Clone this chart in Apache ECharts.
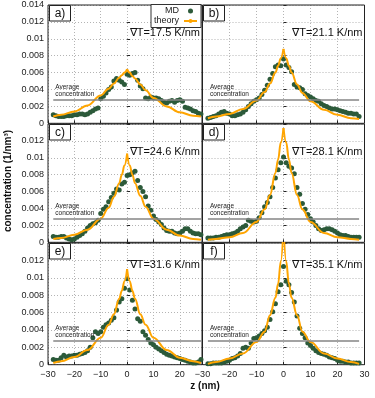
<!DOCTYPE html>
<html>
<head>
<meta charset="utf-8">
<script src="https://cdn.jsdelivr.net/npm/echarts@6/dist/echarts.min.js"></script>
<style>
  html, body { margin: 0; padding: 0; background: #fff; }
  #chart { width: 375px; height: 398px; }
</style>
</head>
<body>
<div id="chart"></div>
<script>
// MD sample positions (nm)
const zMD = [-28, -27, -26, -25, -24, -23, -22, -21, -20, -19, -18, -17, -16, -15, -14, -13, -12, -11, -10, -9,
  -8, -7, -6, -5, -4, -3, -2, -1, 0, 1, 2, 3, 4, 5, 6, 7, 8, 9, 10, 11,
  12, 13, 14, 15, 16, 17, 18, 19, 20, 21, 22, 23, 24, 25, 26, 27, 28];

const mdA = [0.0010, 0.0009, 0.0008, 0.0008, 0.0008, 0.0009, 0.0009, 0.0009, 0.0010, 0.0010,
  0.0011, 0.0011, 0.0010, 0.0011, 0.0013, 0.0015, 0.0017, 0.0018, 0.0029, 0.0032,
  0.0036, 0.0040, 0.0043, 0.0050, 0.0053, 0.0051, 0.0049, 0.0046, 0.0058, 0.0057,
  0.0059, 0.0060, 0.0051, 0.0044, 0.0041, 0.0030, 0.0029, 0.0031, 0.0030, 0.0030,
  0.0029, 0.0027, 0.0025, 0.0024, 0.0026, 0.0027, 0.0025, 0.0027, 0.0028, 0.0026,
  0.0019, 0.0018, 0.0017, 0.0015, 0.0014, 0.0012, 0.0011];
const mdB = [0.0006, 0.0007, 0.0008, 0.0009, 0.0011, 0.0013, 0.0014, 0.0012, 0.0011, 0.0009,
  0.0009, 0.0010, 0.0011, 0.0013, 0.0016, 0.0020, 0.0023, 0.0026, 0.0028, 0.0030,
  0.0034, 0.0039, 0.0045, 0.0052, 0.0059, 0.0067, 0.0069, 0.0068, 0.0076, 0.0069,
  0.0066, 0.0061, 0.0046, 0.0043, 0.0042, 0.0040, 0.0035, 0.0033, 0.0031, 0.0029,
  0.0027, 0.0026, 0.0023, 0.0021, 0.0020, 0.0018, 0.0017, 0.0017, 0.0016, 0.0015,
  0.0014, 0.0013, 0.0012, 0.0012, 0.0011, 0.0011, 0.0008];
const mdC = [0.0007, 0.0006, 0.0006, 0.0007, 0.0007, 0.0005, 0.0004, 0.0003, 0.0004, 0.0006,
  0.0008, 0.0010, 0.0013, 0.0017, 0.0020, 0.0022, 0.0023, 0.0026, 0.0034, 0.0039,
  0.0042, 0.0048, 0.0053, 0.0058, 0.0063, 0.0062, 0.0069, 0.0071, 0.0079, 0.0080,
  0.0082, 0.0084, 0.0073, 0.0065, 0.0060, 0.0054, 0.0043, 0.0038, 0.0031, 0.0027,
  0.0024, 0.0021, 0.0017, 0.0014, 0.0013, 0.0013, 0.0011, 0.0010, 0.0011, 0.0013,
  0.0016, 0.0016, 0.0013, 0.0011, 0.0010, 0.0010, 0.0009];
const mdD = [0.0005, 0.0005, 0.0005, 0.0006, 0.0006, 0.0007, 0.0008, 0.0009, 0.0009, 0.0010,
  0.0011, 0.0013, 0.0016, 0.0018, 0.0020, 0.0026, 0.0025, 0.0024, 0.0025, 0.0029,
  0.0035, 0.0042, 0.0047, 0.0054, 0.0065, 0.0076, 0.0086, 0.0094, 0.0101, 0.0094,
  0.0090, 0.0088, 0.0081, 0.0065, 0.0057, 0.0046, 0.0039, 0.0033, 0.0028, 0.0024,
  0.0020, 0.0016, 0.0014, 0.0015, 0.0016, 0.0016, 0.0015, 0.0013, 0.0011, 0.0009,
  0.0008, 0.0008, 0.0007, 0.0006, 0.0006, 0.0006, 0.0006];
const mdE = [0.0006, 0.0005, 0.0005, 0.0008, 0.0011, 0.0009, 0.0010, 0.0010, 0.0011, 0.0011,
  0.0012, 0.0013, 0.0014, 0.0016, 0.0020, 0.0031, 0.0038, 0.0036, 0.0038, 0.0043,
  0.0046, 0.0048, 0.0051, 0.0054, 0.0063, 0.0072, 0.0076, 0.0088, 0.0099, 0.0086,
  0.0074, 0.0064, 0.0053, 0.0050, 0.0038, 0.0034, 0.0029, 0.0025, 0.0023, 0.0020,
  0.0018, 0.0016, 0.0014, 0.0012, 0.0011, 0.0010, 0.0009, 0.0008, 0.0007, 0.0006,
  0.0005, 0.0004, 0.0003, 0.0002, 0.0002, 0.0003, 0.0006];
const mdF = [0.0001, 0.0001, 0.0002, 0.0002, 0.0002, 0.0002, 0.0003, 0.0004, 0.0005, 0.0007,
  0.0008, 0.0010, 0.0013, 0.0019, 0.0020, 0.0019, 0.0025, 0.0030, 0.0031, 0.0033,
  0.0036, 0.0039, 0.0043, 0.0052, 0.0061, 0.0070, 0.0084, 0.0092, 0.0113, 0.0096,
  0.0092, 0.0083, 0.0072, 0.0056, 0.0042, 0.0036, 0.0031, 0.0025, 0.0022, 0.0019,
  0.0016, 0.0014, 0.0013, 0.0012, 0.0011, 0.0009, 0.0008, 0.0007, 0.0005, 0.0004,
  0.0004, 0.0003, 0.0003, 0.0002, 0.0002, 0.0002, 0.0002];

// theory curve, read on each side of the cusp
const zTheoryL = [-28, -25, -20, -15, -10, -7, -5, -3, -2, -1, 0];
const zTheoryR = [0, 1, 2, 3, 5, 7, 10, 15, 20, 25, 28];
const thA_L = [0.0008, 0.0010, 0.0014, 0.0021, 0.0033, 0.0041, 0.0047, 0.0054, 0.0057, 0.0060, 0.0064];
const thA_R = [0.0064, 0.0060, 0.0056, 0.0053, 0.0046, 0.0039, 0.0030, 0.0020, 0.0013, 0.0009, 0.0008];
const thB_L = [0.0006, 0.0008, 0.0011, 0.0017, 0.0027, 0.0037, 0.0047, 0.0060, 0.0068, 0.0077, 0.0088];
const thB_R = [0.0088, 0.0077, 0.0068, 0.0060, 0.0046, 0.0036, 0.0026, 0.0016, 0.0010, 0.0006, 0.0005];
const thC_L = [0.0004, 0.0005, 0.0009, 0.0015, 0.0028, 0.0041, 0.0054, 0.0070, 0.0080, 0.0091, 0.0105];
const thC_R = [0.0105, 0.0091, 0.0080, 0.0070, 0.0055, 0.0042, 0.0028, 0.0015, 0.0008, 0.0004, 0.0003];
const thD_L = [0.0003, 0.0004, 0.0006, 0.0011, 0.0024, 0.0039, 0.0056, 0.0082, 0.0098, 0.0118, 0.0135];
const thD_R = [0.0135, 0.0118, 0.0098, 0.0082, 0.0056, 0.0039, 0.0024, 0.0011, 0.0006, 0.0004, 0.0003];
const thE_L = [0.0002, 0.0004, 0.0009, 0.0017, 0.0031, 0.0046, 0.0058, 0.0076, 0.0085, 0.0096, 0.0110];
const thE_R = [0.0110, 0.0096, 0.0085, 0.0076, 0.0058, 0.0046, 0.0031, 0.0017, 0.0008, 0.0004, 0.0002];
const thF_L = [0.0001, 0.0003, 0.0007, 0.0013, 0.0026, 0.0038, 0.0057, 0.0077, 0.0093, 0.0119, 0.0160];
const thF_R = [0.0160, 0.0119, 0.0093, 0.0077, 0.0057, 0.0038, 0.0026, 0.0013, 0.0007, 0.0003, 0.0001];

const avgConc = 0.00276;
const avgRange = [-28, 28];
const panelLabels = ["a)", "b)", "c)", "d)", "e)", "f)"];
const gradLabels = ["∇T=17.5 K/nm", "∇T=21.1 K/nm", "∇T=24.6 K/nm", "∇T=28.1 K/nm", "∇T=31.6 K/nm", "∇T=35.1 K/nm"];
const xTicks = [-30, -20, -10, 0, 10, 20, 30];
const yTicks = [0, 0.002, 0.004, 0.006, 0.008, 0.01, 0.012, 0.014];

const mdData = [mdA, mdB, mdC, mdD, mdE, mdF];
const thL = [thA_L, thB_L, thC_L, thD_L, thE_L, thF_L];
const thR = [thA_R, thB_R, thC_R, thD_R, thE_R, thF_R];

const FONT = '"Liberation Sans", Arial, sans-serif';
const ORANGE = "#ffa500";
const GREEN = "#2c5a3a";

// layout of the 3x2 panels
const cols = [
  { left: 48, width: 154, max: 28.4 },
  { left: 202.5, width: 162, max: 30 },
];
const rows = [
  { top: 5, height: 118.3, gradDy: 28.3 },
  { top: 124, height: 118.3, gradDy: 28.3 },
  { top: 243, height: 121.7, gradDy: 21.7 },
];

const grids = [], xAxes = [], yAxes = [], series = [], graphics = [];

for (let i = 0; i < 6; i++) {
  const r = Math.floor(i / 2);
  const c = i % 2;
  const col = cols[c], row = rows[r];

  grids.push({
    left: col.left, top: row.top, width: col.width, height: row.height,
    show: true, borderColor: "#222", borderWidth: 1, backgroundColor: "transparent", z: 1,
  });

  xAxes.push({
    type: "value", gridIndex: i, min: xTicks[0], max: col.max, interval: 10,
    axisLine: { show: false },
    axisTick: { show: true, inside: true, length: 3, lineStyle: { color: "#222" } },
    axisLabel: {
      show: r === 2, margin: 5, fontSize: 9, fontFamily: FONT, color: "#222",
      formatter: (v) => (xTicks.indexOf(v) < 0 ? "" : String(v).replace("-", "−")),
    },
    splitLine: { show: true, lineStyle: { color: "#b4b4b4", width: 1, type: [1, 2] } },
  });

  yAxes.push({
    type: "value", gridIndex: i, min: 0, max: yTicks[yTicks.length - 1], interval: 0.002,
    axisLine: { show: false },
    axisTick: { show: true, inside: true, length: 3, lineStyle: { color: "#222" } },
    axisLabel: {
      show: c === 0, margin: 4, fontSize: 9, fontFamily: FONT, color: "#222",
      formatter: (v) => (r > 0 && v > 0.0139 ? "" : String(+v.toFixed(3))),
    },
    splitLine: { show: true, lineStyle: { color: "#b4b4b4", width: 1, type: [1, 2] } },
  });

  series.push({
    name: "MD", type: "scatter", xAxisIndex: i, yAxisIndex: i,
    symbolSize: 5, itemStyle: { color: GREEN, opacity: 1 }, z: 2,
    data: zMD.map((z, k) => [z, mdData[i][k]]),
    markLine: {
      silent: true, symbol: "none",
      lineStyle: { color: "#858585", width: 1.5, type: "solid" },
      label: {
        show: true, position: "insideStartTop", distance: 2,
        formatter: "Average\nconcentration",
        fontSize: 6.5, lineHeight: 7, fontFamily: FONT, color: "#222",
      },
      data: [[{ coord: [avgRange[0], avgConc] }, { coord: [avgRange[1], avgConc] }]],
    },
  });
  [[zTheoryL, thL[i]], [zTheoryR, thR[i]]].forEach(([zs, ys]) => {
    series.push({
      name: "theory", type: "line", xAxisIndex: i, yAxisIndex: i,
      symbol: "none", smooth: 0.4, smoothMonotone: "x", z: 3,
      lineStyle: { color: ORANGE, width: 2 }, itemStyle: { color: ORANGE },
      data: zs.map((z, k) => [z, ys[k]]),
    });
  });

  // panel letter box
  const bx = Math.round(col.left) + (c === 0 ? 1.5 : 0.5);
  graphics.push({
    type: "rect", z: 20, shape: { x: bx, y: row.top + 0.5, width: 21, height: 15.5 },
    style: { fill: "#fff", stroke: "#222", lineWidth: 1 },
  });
  graphics.push({
    type: "text", z: 21, x: bx + 10.5, y: row.top + 8.5,
    style: { text: panelLabels[i], font: "12px " + FONT, fill: "#111", align: "center", verticalAlign: "middle" },
  });
  graphics.push({
    type: "text", z: 21, x: col.left + col.width - 2, y: row.top + row.gradDy,
    style: { text: gradLabels[i], font: "11px " + FONT, fill: "#111", align: "right", verticalAlign: "middle" },
  });
}

graphics.push({
  type: "text", z: 21, x: 8, y: 181, rotation: Math.PI / 2,
  style: { text: "concentration (1/nm³)", font: "bold 10px " + FONT, fill: "#111", align: "center", verticalAlign: "middle" },
});
graphics.push({
  type: "text", z: 21, x: 205, y: 386,
  style: { text: "z (nm)", font: "bold 10px " + FONT, fill: "#111", align: "center", verticalAlign: "middle" },
});

const chart = echarts.init(document.getElementById("chart"), null, { renderer: "canvas" });
chart.setOption({
  animation: false,
  backgroundColor: "#fff",
  grid: grids,
  xAxis: xAxes,
  yAxis: yAxes,
  legend: {
    data: ["MD", "theory"], selectedMode: false,
    left: 151, top: 4.5, orient: "vertical", align: "right",
    itemWidth: 13, itemHeight: 5, itemGap: 0, padding: [1.5, 3],
    borderColor: "#333", borderWidth: 1, backgroundColor: "#fff", z: 30,
    textStyle: { fontSize: 9, lineHeight: 10, fontFamily: FONT, color: "#222" },
  },
  series: series,
  graphic: graphics,
});
</script>
</body>
</html>
